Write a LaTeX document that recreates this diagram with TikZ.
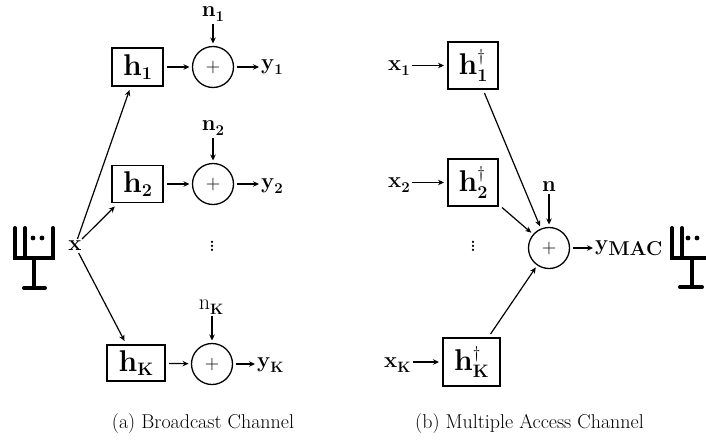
\documentclass[tikz,border=0pt]{standalone}
\usepackage{fix-cm}
\usepackage{amsmath}
\usepackage{fontspec}
\usetikzlibrary{arrows.meta}
\newcommand{\fs}[1]{\fontsize{#1}{#1}\selectfont}
\newcommand{\lb}[2]{\textbf{#1}\raisebox{-0.22em}{\fs{15}\textbf{#2}}}
\newcommand{\hb}[2]{\textbf{h}\raisebox{-0.16em}{\fs{18}\textbf{#2}}}
\newcommand{\hd}[1]{\textbf{h}\rlap{\raisebox{.42em}{\fs{17}$\dagger$}}\raisebox{-0.22em}{\fs{18}\textbf{#1}}}
\tikzset{
  x=1pt,y=-1pt,
  hbox/.style={draw,line width=1.5pt,inner sep=0pt,outer sep=4pt,font=\fs{30}},
  sumc/.style={draw,circle,line width=1.3pt,minimum size=41pt,inner sep=0pt,outer sep=3pt,font=\fs{20}},
  lab/.style={inner sep=2pt,font=\fs{22}},
  arr/.style={-{Stealth[length=6pt,width=5.5pt]},line width=1.2pt},
  ant/.style={line width=4pt,line cap=round},
  captext/.style={font=\fs{20}\addfontfeature{LetterSpace=12},inner sep=0pt},
  vdotsn/.style={inner sep=0pt,font=\fs{28}}
}
\begin{document}
\begin{tikzpicture}
\useasboundingbox (0,0) rectangle (706,442);
\clip (0,0) rectangle (706,442);
% left antenna
\draw[ant] (15,228) -- (15,258) -- (53,258) -- (53,228);
\draw[ant] (25,228) -- (25,258);
\draw[ant] (34,258) -- (34,288);
\draw[ant] (24,288) -- (45,288);
\fill (33,238) circle (2.4pt) (42,238) circle (2.4pt);
% broadcast
\node[lab] (x) at (75,246) {\textbf{x}};
\node[hbox,minimum width=51pt,minimum height=38pt] (h1) at (137.5,67) {\hb{}{1}};
\node[hbox,minimum width=51pt,minimum height=37pt] (h2) at (137.5,184) {\hb{}{2}};
\node[hbox,minimum width=58pt,minimum height=36pt] (hk) at (136,363) {\hb{}{K}};
\node[sumc] (s1) at (213,67) {$+$};
\node[sumc] (s2) at (213,184) {$+$};
\node[sumc] (s3) at (212,364) {$+$};
\node[lab] (n1) at (213,14) {\lb{n}{1}};
\node[lab] (n2) at (213,128) {\lb{n}{2}};
\node[lab] (nk) at (211,307) {n\raisebox{-0.22em}{\fs{15}\textbf{K}}};
\node[lab,anchor=west] (y1) at (259,67) {\lb{y}{1}};
\node[lab,anchor=west] (y2) at (259,186) {\lb{y}{2}};
\node[lab,anchor=west] (yk) at (255,365) {\lb{y}{K}};
\node[vdotsn] (d1) at (212,243) {$\vdots$};
\draw[arr] (x) -- (h1);
\draw[arr] (x) -- (h2);
\draw[arr] (x) -- (hk);
\foreach \a/\b in {h1/s1,h2/s2,hk/s3}{\draw[arr] (\a) -- (\b);}
\draw[arr] (s1) -- (y1.west |- s1.east);
\draw[arr] (s2) -- (y2.west |- s2.east);
\draw[arr] (s3) -- (yk.west |- s3.east);
\draw[arr] (n1.south -| s1.north) -- (s1);
\draw[arr] (n2.south -| s2.north) -- (s2);
\draw[arr] (nk.south -| s3.north) -- (s3);
% MAC
\node[lab,anchor=west] (x1) at (386,68) {\lb{x}{1}};
\node[lab,anchor=west] (x2) at (386,185) {\lb{x}{2}};
\node[lab,anchor=west] (xk) at (382,365) {\lb{x}{K}};
\node[hbox,minimum width=50pt,minimum height=47pt] (g1) at (473,65.5) {\hd{1}};
\node[hbox,minimum width=50pt,minimum height=47pt] (g2) at (473,182.5) {\hd{2}};
\node[hbox,minimum width=57pt,minimum height=48pt] (gk) at (471.5,362) {\hd{K}};
\node[sumc] (s) at (549,248) {$+$};
\node[lab] (n) at (549,187) {\textbf{n}};
\node[lab,anchor=west] (y) at (593,248) {\textbf{y}\raisebox{-0.22em}{\fs{20}\textbf{MAC}}};
\node[vdotsn] (d2) at (473,243) {$\vdots$};
\draw[arr] (x1.east |- g1.west) -- (g1);
\draw[arr] (x2.east |- g2.west) -- (g2);
\draw[arr] (xk.east |- gk.west) -- (gk);
\draw[arr] (g1) -- (s);
\draw[arr] (g2) -- (s);
\draw[arr] (gk) -- (s);
\draw[arr] (n) -- (s);
\draw[arr] (s) -- (y);
% right antenna
\draw[ant] (672,228) -- (672,258) -- (710,258);
\draw[ant] (682,228) -- (682,258);
\draw[ant] (692,258) -- (692,287);
\draw[ant] (680,287) -- (702,287);
\fill (688,238) circle (2.4pt) (697,238) circle (2.4pt);
% captions
\node[captext] (c1) at (203,424) {(a) Broadcast Channel};
\node[captext] (c2) at (529.5,424) {(b) Multiple Access Channel};
\end{tikzpicture}
\end{document}
